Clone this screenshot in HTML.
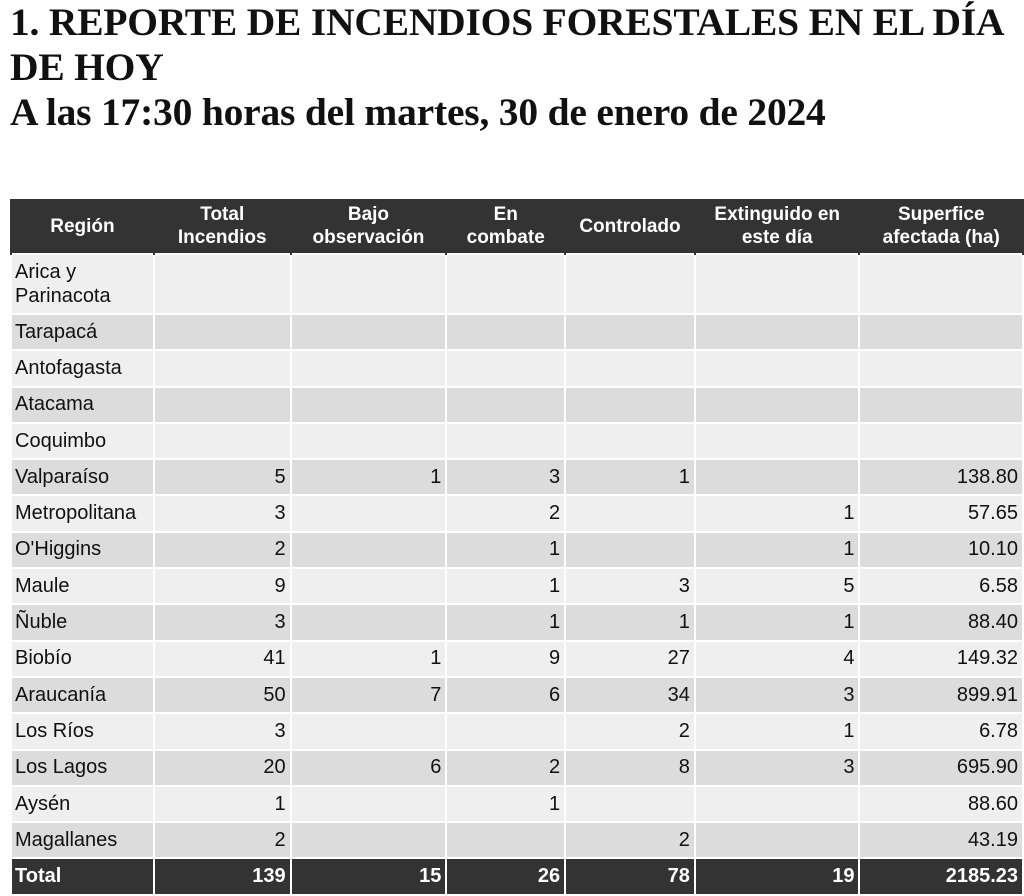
<!DOCTYPE html><html><head><meta charset="utf-8"><style>
body{margin:0;width:1024px;height:894px;background:#fff;overflow:hidden;position:relative}
h1{position:absolute;left:10px;top:0;margin:0;font:bold 39.5px/45px "Liberation Serif",serif;color:#111;white-space:nowrap;letter-spacing:-0.2px}
table{position:absolute;left:10px;top:199px;width:1014px;border-collapse:collapse;font:20px "Liberation Sans",sans-serif;color:#111}
td,th{border:2px solid #fff;padding:0 4px;height:34.3px}
td:first-child{padding-left:3px}
th{background:#333;color:#fff;font-weight:bold;font-size:19px;line-height:23px;height:54px;border-top:0;border-bottom:0}
tr:first-child th{border-left-color:#333;border-right-color:#333}
td{text-align:right}
td:first-child{text-align:left}
tr.l td{background:#efefef}tr.d td{background:#dcdcdc}
tr.t td{background:#333;color:#fff;font-weight:bold;height:35px}
</style></head><body>
<h1>1. REPORTE DE INCENDIOS FORESTALES EN EL DÍA<br>DE HOY<br>A las 17:30 horas del martes, 30 de enero de 2024</h1>
<table>
<colgroup><col style="width:143px"><col style="width:137px"><col style="width:156px"><col style="width:119px"><col style="width:130px"><col style="width:165px"><col style="width:164px"></colgroup>
<tr><th>Región</th><th>Total<br>Incendios</th><th>Bajo<br>observación</th><th>En<br>combate</th><th>Controlado</th><th>Extinguido en<br>este día</th><th>Superfice<br>afectada (ha)</th></tr>
<tr class="l"><td style="height:58px;line-height:24px">Arica y<br>Parinacota</td><td></td><td></td><td></td><td></td><td></td><td></td></tr>
<tr class="d"><td>Tarapacá</td><td></td><td></td><td></td><td></td><td></td><td></td></tr>
<tr class="l"><td>Antofagasta</td><td></td><td></td><td></td><td></td><td></td><td></td></tr>
<tr class="d"><td>Atacama</td><td></td><td></td><td></td><td></td><td></td><td></td></tr>
<tr class="l"><td>Coquimbo</td><td></td><td></td><td></td><td></td><td></td><td></td></tr>
<tr class="d"><td>Valparaíso</td><td>5</td><td>1</td><td>3</td><td>1</td><td></td><td>138.80</td></tr>
<tr class="l"><td>Metropolitana</td><td>3</td><td></td><td>2</td><td></td><td>1</td><td>57.65</td></tr>
<tr class="d"><td>O'Higgins</td><td>2</td><td></td><td>1</td><td></td><td>1</td><td>10.10</td></tr>
<tr class="l"><td>Maule</td><td>9</td><td></td><td>1</td><td>3</td><td>5</td><td>6.58</td></tr>
<tr class="d"><td>Ñuble</td><td>3</td><td></td><td>1</td><td>1</td><td>1</td><td>88.40</td></tr>
<tr class="l"><td>Biobío</td><td>41</td><td>1</td><td>9</td><td>27</td><td>4</td><td>149.32</td></tr>
<tr class="d"><td>Araucanía</td><td>50</td><td>7</td><td>6</td><td>34</td><td>3</td><td>899.91</td></tr>
<tr class="l"><td>Los Ríos</td><td>3</td><td></td><td></td><td>2</td><td>1</td><td>6.78</td></tr>
<tr class="d"><td>Los Lagos</td><td>20</td><td>6</td><td>2</td><td>8</td><td>3</td><td>695.90</td></tr>
<tr class="l"><td>Aysén</td><td>1</td><td></td><td>1</td><td></td><td></td><td>88.60</td></tr>
<tr class="d"><td>Magallanes</td><td>2</td><td></td><td></td><td>2</td><td></td><td>43.19</td></tr>
<tr class="t"><td>Total</td><td>139</td><td>15</td><td>26</td><td>78</td><td>19</td><td>2185.23</td></tr>
</table>
</body></html>
